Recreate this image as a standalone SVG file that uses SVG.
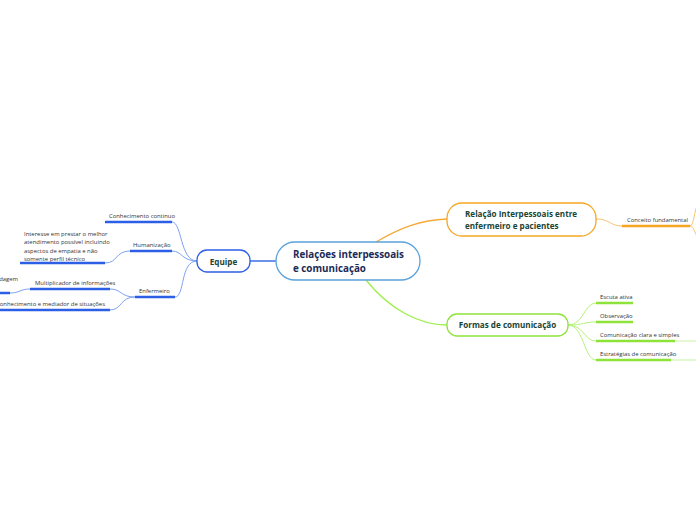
<svg xmlns="http://www.w3.org/2000/svg" width="696" height="520" viewBox="0 0 696 520">
<style>
text{font-family:"Open Sans","Noto Sans","Liberation Sans",sans-serif}
.t{font-size:5.9px;fill:#333}
.nt{font-size:8.1px;font-weight:bold;fill:#1b4436}
.c{fill:none;stroke-width:1}
.u{fill:none;stroke-width:2.5}
.b{stroke:#7ea2f2}.bu{stroke:#2c5fe6}
.o{stroke:#f8c276}.ou{stroke:#f6a623}
.g{stroke:#b6f27a}.gu{stroke:#8ee33a}
</style>
<rect width="696" height="520" fill="#fff"/>
<g id="connectors">
<path d="M376 242 C400 228 420 220 447 219" stroke="#f7a935" stroke-width="1.3" fill="none"/>
<path d="M366 280 C390 310 420 325 447 325" stroke="#9fee4a" stroke-width="1.3" fill="none"/>
<path d="M250 261 H276" stroke="#3a6fe6" stroke-width="1.5" fill="none"/>
<path class="c b" d="M197 261 C180 261 182 222 172 222"/>
<path class="c b" d="M197 261 C182 261 182 251 172 251"/>
<path class="c b" d="M197 261 C180 261 185 297 175 297"/>
<path class="u bu" d="M105 222 H172"/>
<path class="u bu" d="M130 251 H172"/>
<path class="u bu" d="M135 297 H175"/>
<path class="c b" d="M130 251 C115 251 118 263 105 263"/>
<path class="u bu" d="M20 263 H105"/>
<path class="c b" d="M135 297 C120 297 122 289 110 289"/>
<path class="c b" d="M135 297 C120 297 122 310 110 310"/>
<path class="u bu" d="M30 289 H110"/>
<path class="u bu" d="M0 310 H110"/>
<path class="c b" d="M30 289 C20 289 20 293 10 293"/>
<path class="u bu" d="M0 293 H10"/>
<path class="c o" d="M596 219 C610 219 610 226 622 226"/>
<path class="u ou" d="M622 226 H690"/>
<path class="c o" d="M690 226 C694 226 694 210 698 204"/>
<path class="c o" d="M690 226 C694 226 694 232 698 238"/>
<path class="c g" d="M568 325 C584 325 584 303 596 303"/>
<path class="c g" d="M568 325 C584 325 584 322 596 322"/>
<path class="c g" d="M568 325 C584 325 584 341 596 341"/>
<path class="c g" d="M568 325 C584 325 584 360 596 360"/>
<path class="u gu" d="M596 303 H633"/>
<path class="u gu" d="M596 322 H633"/>
<path class="u gu" d="M596 341 H675"/>
<path class="u gu" d="M596 360 H671"/>
<path d="M675 341 H696 M671 360 H696" stroke="#dcf8c0" stroke-width="1.5" fill="none"/>
</g>
<g id="central">
<rect x="276" y="242" width="144" height="38" rx="19" fill="#fff" stroke="#5aa3dc" stroke-width="1.3"/>
<text x="293" y="258" font-size="9.8" font-weight="bold" fill="#1b2a57">Relações interpessoais</text>
<text x="293" y="272" font-size="9.8" font-weight="bold" fill="#1b2a57">e comunicação</text>
</g>
<g id="equipe">
<rect x="197" y="250" width="53" height="22" rx="10" fill="#fff" stroke="#2c5fe6" stroke-width="1.3"/>
<text x="223.5" y="264.5" text-anchor="middle" class="nt">Equipe</text>
</g>
<g id="relacao">
<rect x="447" y="203" width="149" height="33" rx="15" fill="#fff" stroke="#f6a623" stroke-width="1.3"/>
<text x="465" y="217" class="nt">Relação Interpessoais entre</text>
<text x="465" y="229" class="nt">enfermeiro e pacientes</text>
</g>
<g id="formas">
<rect x="447" y="314" width="121" height="22" rx="10" fill="#fff" stroke="#8ee33a" stroke-width="1.3"/>
<text x="507.5" y="328" text-anchor="middle" class="nt">Formas de comunicação</text>
</g>
<g id="conhecimento"><text x="109" y="218" class="t">Conhecimento continuo</text></g>
<g id="humanizacao"><text x="133" y="247" class="t">Humanização</text></g>
<g id="interesse">
<text x="24" y="235.5" class="t">Interesse em prestar o melhor</text>
<text x="24" y="244" class="t">atendimento possível incluindo</text>
<text x="24" y="252.5" class="t">aspectos de empatia e não</text>
<text x="24" y="261" class="t">somente perfil técnico</text>
</g>
<g id="enfermeiro"><text x="139" y="293" class="t">Enfermeiro</text></g>
<g id="multiplicador"><text x="35" y="285" class="t">Multiplicador de informações</text></g>
<g id="abordagem"><text x="18" y="281" text-anchor="end" class="t">Abordagem</text></g>
<g id="mediador"><text x="105" y="306" text-anchor="end" class="t">Conhecimento e mediador de situações</text></g>
<g id="conceito"><text x="627" y="222" class="t">Conceito fundamental</text></g>
<g id="escuta"><text x="600" y="299" class="t">Escuta ativa</text></g>
<g id="observacao"><text x="600" y="318" class="t">Observação</text></g>
<g id="clara"><text x="600" y="337" class="t">Comunicação clara e simples</text></g>
<g id="estrategias"><text x="600" y="356" class="t">Estratégias de comunicação</text></g>
</svg>
